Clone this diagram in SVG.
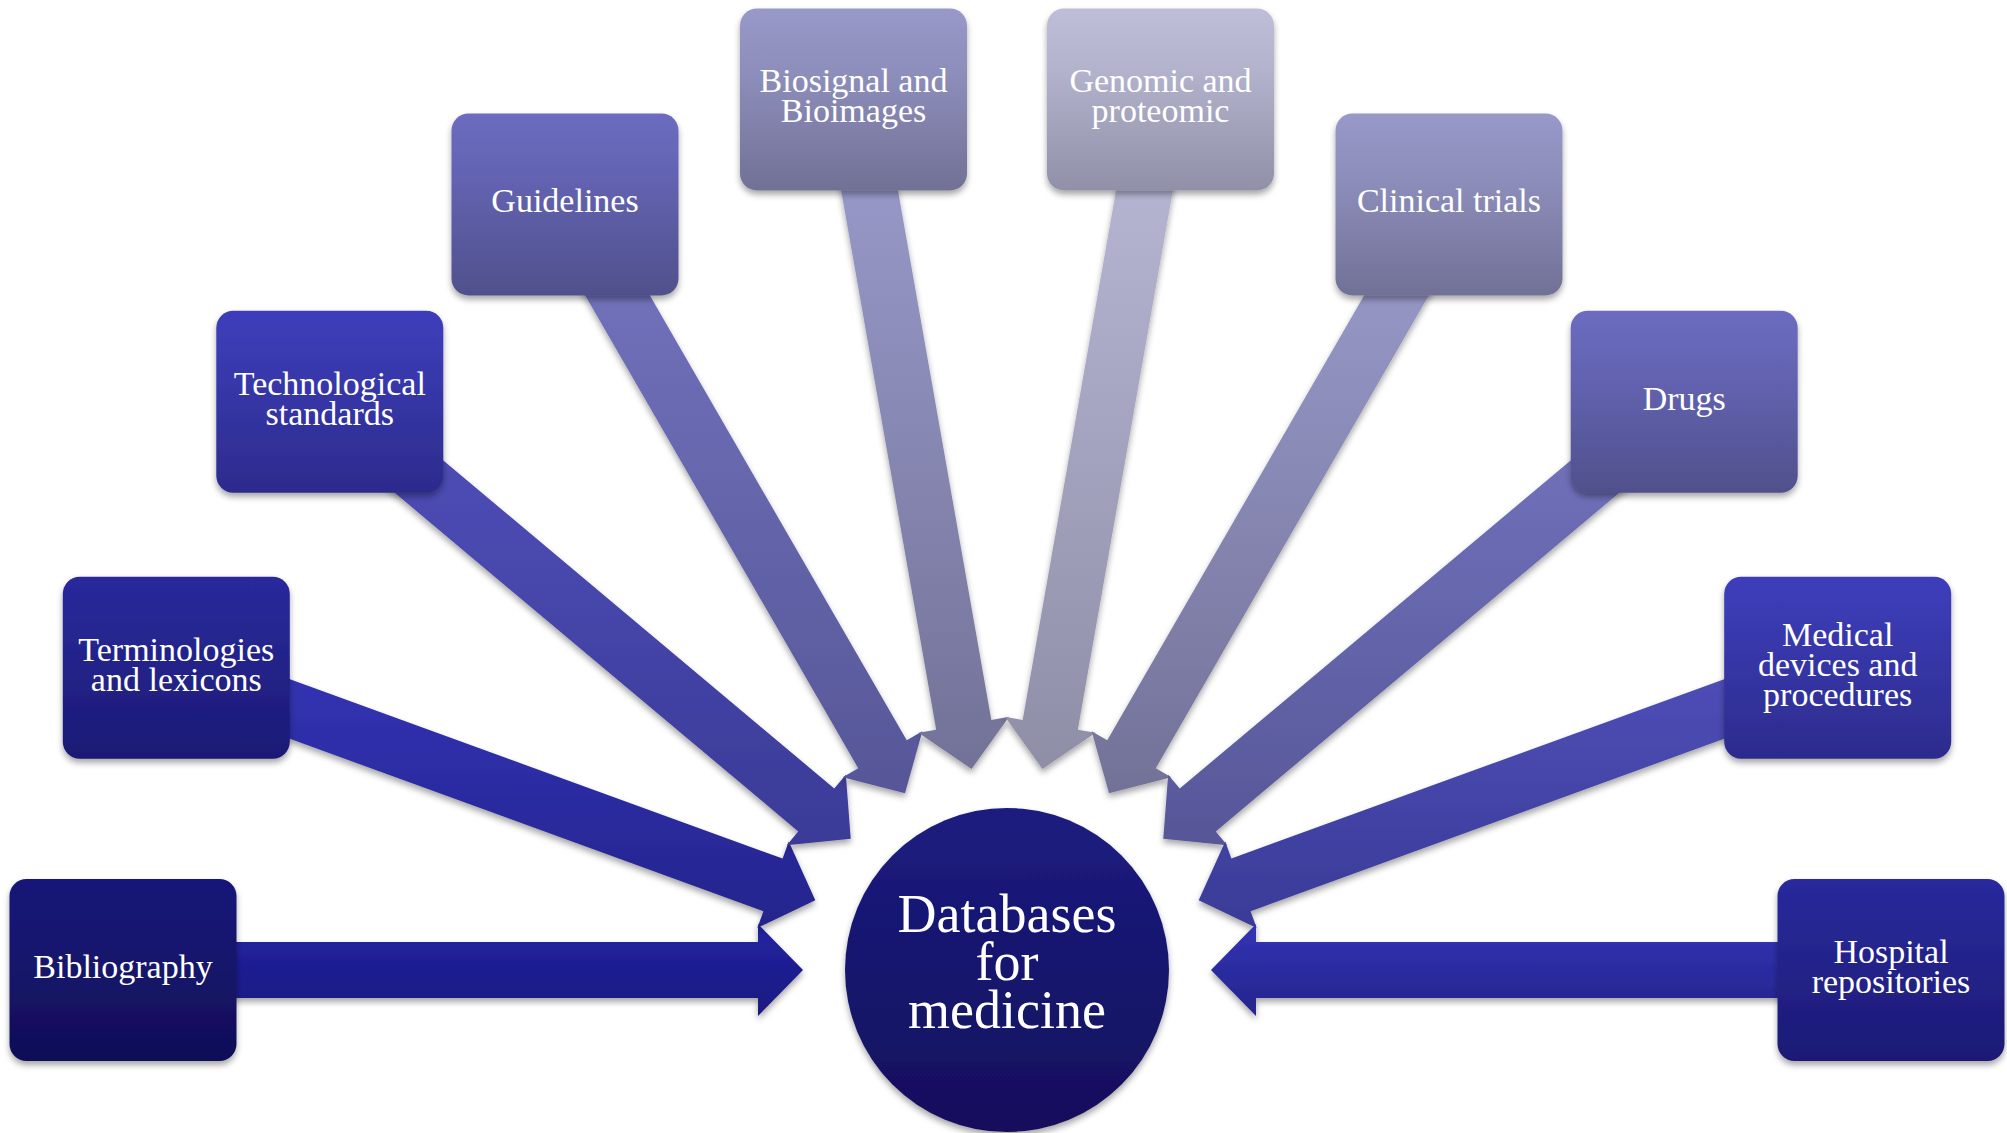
<svg xmlns="http://www.w3.org/2000/svg" width="2007" height="1133" viewBox="0 0 2007 1133">
<style>
.lbl{font-family:"Liberation Serif","Times New Roman",serif;font-size:34px;fill:#ffffff;text-anchor:middle}
.ctr{font-family:"Liberation Serif","Times New Roman",serif;font-size:54px;fill:#ffffff;text-anchor:middle}
.sh{filter:url(#shadow)}
</style>
<defs>
<filter id="shadow" x="-10%" y="-10%" width="120%" height="125%">
<feDropShadow dx="0" dy="4" stdDeviation="3" flood-color="#000000" flood-opacity="0.35"/>
</filter>
<linearGradient id="b1" x1="0" y1="0" x2="0" y2="1"><stop offset="0" stop-color="#181879"/><stop offset="0.35" stop-color="#16166f"/><stop offset="1" stop-color="#100e58"/></linearGradient>
<linearGradient id="b2" x1="0" y1="0" x2="0" y2="1"><stop offset="0" stop-color="#29299d"/><stop offset="0.35" stop-color="#25258f"/><stop offset="1" stop-color="#1b1975"/></linearGradient>
<linearGradient id="b3" x1="0" y1="0" x2="0" y2="1"><stop offset="0" stop-color="#3e3ebc"/><stop offset="0.35" stop-color="#3838ac"/><stop offset="1" stop-color="#2c2b8d"/></linearGradient>
<linearGradient id="b4" x1="0" y1="0" x2="0" y2="1"><stop offset="0" stop-color="#6c6cc0"/><stop offset="0.35" stop-color="#6363b2"/><stop offset="1" stop-color="#50508c"/></linearGradient>
<linearGradient id="b5" x1="0" y1="0" x2="0" y2="1"><stop offset="0" stop-color="#9898c9"/><stop offset="0.35" stop-color="#8e8ebc"/><stop offset="1" stop-color="#717196"/></linearGradient>
<linearGradient id="b6" x1="0" y1="0" x2="0" y2="1"><stop offset="0" stop-color="#bebed8"/><stop offset="0.35" stop-color="#b2b2cc"/><stop offset="1" stop-color="#9090a8"/></linearGradient>
<linearGradient id="a1" x1="0" y1="0" x2="0" y2="1"><stop offset="0" stop-color="#2323a2"/><stop offset="1" stop-color="#1a1980"/></linearGradient>
<linearGradient id="a2" x1="0" y1="0" x2="0" y2="1"><stop offset="0" stop-color="#3333b6"/><stop offset="1" stop-color="#24248c"/></linearGradient>
<linearGradient id="a3" x1="0" y1="0" x2="0" y2="1"><stop offset="0" stop-color="#4f4fb9"/><stop offset="1" stop-color="#3a3a97"/></linearGradient>
<linearGradient id="a4" x1="0" y1="0" x2="0" y2="1"><stop offset="0" stop-color="#7373be"/><stop offset="1" stop-color="#565698"/></linearGradient>
<linearGradient id="a5" x1="0" y1="0" x2="0" y2="1"><stop offset="0" stop-color="#9a9acb"/><stop offset="1" stop-color="#727298"/></linearGradient>
<linearGradient id="a6" x1="0" y1="0" x2="0" y2="1"><stop offset="0" stop-color="#b7b7d5"/><stop offset="1" stop-color="#8e8ea7"/></linearGradient>
<linearGradient id="cg" x1="0" y1="0" x2="0" y2="1"><stop offset="0" stop-color="#1c1c80"/><stop offset="1" stop-color="#120f5c"/></linearGradient>
</defs>
<rect width="2007" height="1133" fill="#ffffff"/>
<g id="connectors">
<polygon class="sh" fill="url(#a1)" points="173,942 758,942 758,924 803,970 758,1016 758,998 173,998"/>
<polygon class="sh" fill="url(#a2)" points="232.88,658.45 782.60,858.53 788.75,841.61 815.30,900.23 757.29,928.07 763.44,911.15 213.72,711.07"/>
<polygon class="sh" fill="url(#a3)" points="386.12,412.46 834.26,788.50 845.83,774.71 850.73,838.87 786.69,845.19 798.26,831.40 350.12,455.36"/>
<polygon class="sh" fill="url(#a4)" points="614.25,233.73 906.75,740.36 922.34,731.36 905,793.33 842.66,777.36 858.25,768.36 565.75,261.73"/>
<polygon class="sh" fill="url(#a5)" points="889.75,143.81 991.33,719.92 1009.06,716.79 971.58,769.10 918.46,732.77 936.19,729.64 834.61,153.53"/>
<polygon class="sh" fill="url(#a6)" points="1124.25,143.81 1022.67,719.92 1004.94,716.79 1042.42,769.10 1095.54,732.77 1077.81,729.64 1179.39,153.53"/>
<polygon class="sh" fill="url(#a5)" points="1399.75,233.73 1107.25,740.36 1091.66,731.36 1109,793.33 1171.34,777.36 1155.75,768.36 1448.25,261.73"/>
<polygon class="sh" fill="url(#a4)" points="1627.88,412.46 1179.74,788.50 1168.17,774.71 1163.27,838.87 1227.31,845.19 1215.74,831.40 1663.88,455.36"/>
<polygon class="sh" fill="url(#a3)" points="1781.12,658.45 1231.40,858.53 1225.25,841.61 1198.70,900.23 1256.71,928.07 1250.56,911.15 1800.28,711.07"/>
<polygon class="sh" fill="url(#a2)" points="1841,942 1256,942 1256,924 1211,970 1256,1016 1256,998 1841,998"/>
</g>
<g id="n-bibliography">
<rect class="sh" x="9.5" y="879" width="227" height="182" rx="17" fill="url(#b1)"/>
<text class="lbl" x="123" y="978">Bibliography</text>
</g>
<g id="n-terminologies">
<rect class="sh" x="62.8" y="576.7" width="227" height="182" rx="17" fill="url(#b2)"/>
<text class="lbl" x="176.3" y="660.5">Terminologies</text>
<text class="lbl" x="176.3" y="690.5">and lexicons</text>
</g>
<g id="n-technological">
<rect class="sh" x="216.3" y="310.8" width="227" height="182" rx="17" fill="url(#b3)"/>
<text class="lbl" x="329.8" y="394.6">Technological</text>
<text class="lbl" x="329.8" y="424.6">standards</text>
</g>
<g id="n-guidelines">
<rect class="sh" x="451.5" y="113.4" width="227" height="182" rx="17" fill="url(#b4)"/>
<text class="lbl" x="565" y="212.4">Guidelines</text>
</g>
<g id="n-biosignal">
<rect class="sh" x="740" y="8.4" width="227" height="182" rx="17" fill="url(#b5)"/>
<text class="lbl" x="853.5" y="92.2">Biosignal and</text>
<text class="lbl" x="853.5" y="122.2">Bioimages</text>
</g>
<g id="n-genomic">
<rect class="sh" x="1047" y="8.4" width="227" height="182" rx="17" fill="url(#b6)"/>
<text class="lbl" x="1160.5" y="92.2">Genomic and</text>
<text class="lbl" x="1160.5" y="122.2">proteomic</text>
</g>
<g id="n-clinical">
<rect class="sh" x="1335.5" y="113.4" width="227" height="182" rx="17" fill="url(#b5)"/>
<text class="lbl" x="1449" y="212.4">Clinical trials</text>
</g>
<g id="n-drugs">
<rect class="sh" x="1570.7" y="310.8" width="227" height="182" rx="17" fill="url(#b4)"/>
<text class="lbl" x="1684.2" y="409.8">Drugs</text>
</g>
<g id="n-medical">
<rect class="sh" x="1724.2" y="576.7" width="227" height="182" rx="17" fill="url(#b3)"/>
<text class="lbl" x="1837.7" y="645.7">Medical</text>
<text class="lbl" x="1837.7" y="675.7">devices and</text>
<text class="lbl" x="1837.7" y="705.7">procedures</text>
</g>
<g id="n-hospital">
<rect class="sh" x="1777.5" y="879" width="227" height="182" rx="17" fill="url(#b2)"/>
<text class="lbl" x="1891" y="962.8">Hospital</text>
<text class="lbl" x="1891" y="992.8">repositories</text>
</g>
<g id="n-center">
<circle class="sh" cx="1007" cy="970" r="162" fill="url(#cg)"/>
<text class="ctr" x="1007" y="932">Databases</text>
<text class="ctr" x="1007" y="980">for</text>
<text class="ctr" x="1007" y="1028">medicine</text>
</g>
</svg>
